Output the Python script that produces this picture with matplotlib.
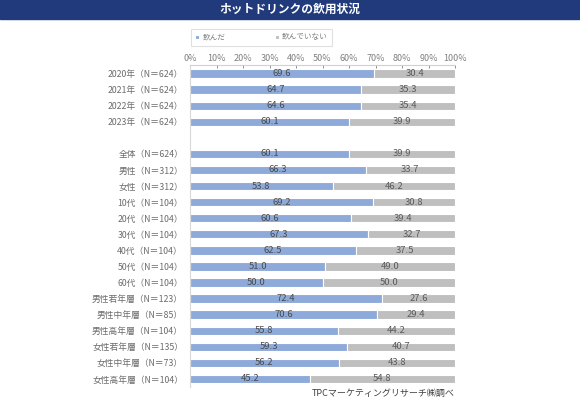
import matplotlib.pyplot as plt
import numpy as np

plt.rcParams['font.family'] = ['Noto Sans CJK JP', 'DejaVu Sans']

# データ
labels = ['2020年（N＝624）', '2021年（N＝624）', '2022年（N＝624）', '2023年（N＝624）',
          '',
          '全体（N＝624）', '男性（N＝312）', '女性（N＝312）',
          '10代（N＝104）', '20代（N＝104）', '30代（N＝104）', '40代（N＝104）',
          '50代（N＝104）', '60代（N＝104）',
          '男性若年層（N＝123）', '男性中年層（N＝85）', '男性高年層（N＝104）',
          '女性若年層（N＝135）', '女性中年層（N＝73）', '女性高年層（N＝104）']
drank = [69.6, 64.7, 64.6, 60.1, None,
         60.1, 66.3, 53.8, 69.2, 60.6, 67.3, 62.5, 51.0, 50.0,
         72.4, 70.6, 55.8, 59.3, 56.2, 45.2]
not_drank = [30.4, 35.3, 35.4, 39.9, None,
             39.9, 33.7, 46.2, 30.8, 39.4, 32.7, 37.5, 49.0, 50.0,
             27.6, 29.4, 44.2, 40.7, 43.8, 54.8]
series_names = ['飲んだ', '飲んでいない']

blue = '#8eaadb'
gray = '#bfbfbf'
txt = '#6b6b6b'

fig = plt.figure(figsize=(5.8, 4.04), dpi=100)

# タイトル帯
fig.patches.append(plt.Rectangle((0, 1 - 18.5/404), 1, 18.5/404, transform=fig.transFigure,
                                 color='#203a7c', zorder=0))
fig.text(0.5, 1 - 9.5/404, 'ホットドリンクの飲用状況', color='white', ha='center', va='center',
         fontsize=8.5, fontweight='bold')

ax = fig.add_axes([190/580, 1 - 387/404, 265/580, (387 - 65.5)/404])

pos = np.arange(len(labels))
idx = [i for i, v in enumerate(drank) if v is not None]
d = np.array([drank[i] for i in idx])
n = np.array([not_drank[i] for i in idx])
y = pos[idx]

h = 0.52
ax.barh(y, d, height=h, color=blue, edgecolor='white', linewidth=0.8, label=series_names[0])
ax.barh(y, n, left=d, height=h, color=gray, edgecolor='white', linewidth=0.8, label=series_names[1])

for yy, a, b in zip(y, d, n):
    ax.text(a / 2, yy, '%.1f' % a, ha='center', va='center', fontsize=6.8, color='#4a4a4a')
    ax.text(a + b / 2, yy, '%.1f' % b, ha='center', va='center', fontsize=6.8, color='#5a5a5a')

ax.set_xlim(0, 100)
ax.set_ylim(len(labels) - 0.5, -0.5)
ax.set_xticks(np.arange(0, 101, 10))
ax.set_xticklabels(['%d%%' % v for v in range(0, 101, 10)])
ax.xaxis.tick_top()
ax.tick_params(axis='x', labelsize=6.5, colors='#808080', length=2, width=0.6, pad=2, direction='in')
ax.set_yticks(pos)
ax.set_yticklabels(labels)
ax.tick_params(axis='y', labelsize=6.3, colors=txt, length=0, pad=5)

for s in ['right', 'bottom']:
    ax.spines[s].set_visible(False)
ax.spines['top'].set_color('#d0d0d0')
ax.spines['left'].set_color('#d9d9d9')
ax.spines['top'].set_linewidth(0.8)
ax.spines['left'].set_linewidth(0.8)

leg = fig.legend(loc='center', bbox_to_anchor=(261.5/580, 1 - 37.5/404), ncol=2, fontsize=5.5,
                 frameon=True, fancybox=False, edgecolor='#d9d9d9', handlelength=0.5,
                 handleheight=0.5, columnspacing=6.5, handletextpad=0.4, borderpad=0.6,
                 borderaxespad=0, labelcolor='#808080')
leg.get_frame().set_linewidth(0.8)
# 凡例の左右余白を広げる
leg._legend_box.sep = 0
for t in leg.get_texts():
    t.set_fontsize(5.5)

fig.text(455/580, 1 - 393/404, 'TPCマーケティングリサーチ㈱調べ', ha='right', va='center',
         fontsize=6.5, color='#404040')

fig.savefig('out.png', dpi=100)
